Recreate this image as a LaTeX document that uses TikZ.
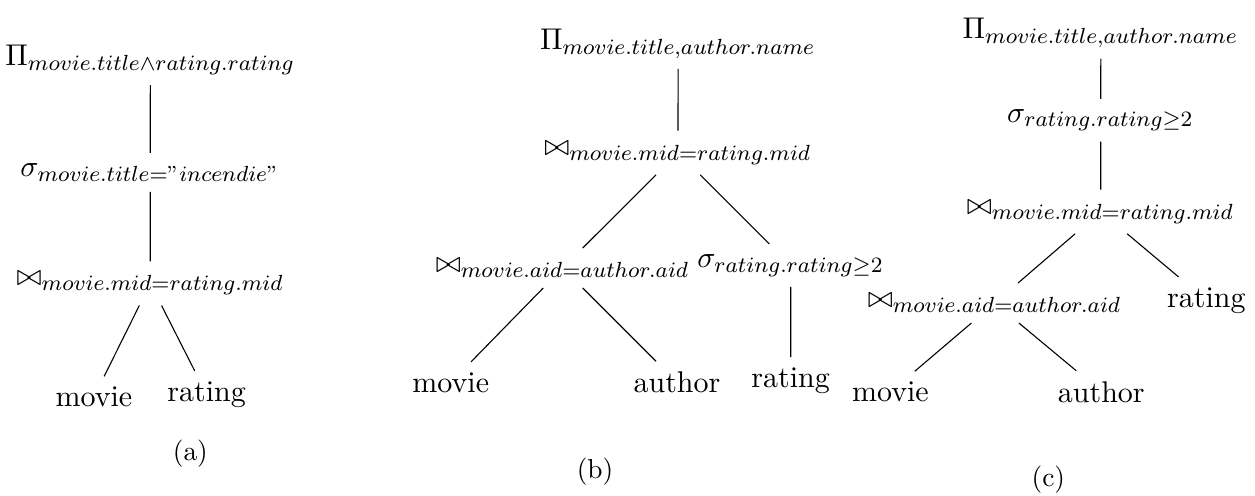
\documentclass[11pt,tikz,border=0pt]{standalone}
\usepackage{amsmath}
\usepackage{amssymb}
\begin{document}
\begin{tikzpicture}[scale=1.095]
            \useasboundingbox (0, 0) rectangle (14.70, 5.80);
            \node (pa) at (1.76, 5.10) {$\Pi_{movie.title \wedge rating.rating}$};
            \node (sa) at (1.76, 3.78) {$\sigma_{movie.title="incendie"}$};
            \node (ja) at (1.76, 2.48) {$\bowtie_{movie.mid=rating.mid}$};
            \node (ma) at (1.10, 1.15) {movie};
            \node (ra) at (2.42, 1.18) {rating};
            \node (capa) at (2.23, 0.49) {\small (a)};
            \draw (pa) -- (sa);
            \draw (sa) -- (ja);
            \draw (ja) -- (ma);
            \draw (ja) -- (ra);

            \node (pb) at (7.94, 5.29) {$\Pi_{movie.title,author.name}$};
            \node (jb) at (7.94, 4.01) {$\bowtie_{movie.mid=rating.mid}$};
            \node (kb) at (6.59, 2.66) {$\bowtie_{movie.aid=author.aid}$};
            \node (sb) at (9.26, 2.69) {$\sigma_{rating.rating \geq 2}$};
            \node (mb) at (5.28, 1.32) {movie};
            \node (ab) at (7.93, 1.32) {author};
            \node (rb) at (9.26, 1.34) {rating};
            \node (capb) at (6.97, 0.27) {\small (b)};
            \draw (pb) -- (jb);
            \draw (jb) -- (kb);
            \draw (jb) -- (sb);
            \draw (kb) -- (mb);
            \draw (kb) -- (ab);
            \draw (sb) -- (rb);

            \node (pc) at (12.89, 5.41) {$\Pi_{movie.title,author.name}$};
            \node (sc) at (12.89, 4.39) {$\sigma_{rating.rating \geq 2}$};
            \node (jc) at (12.89, 3.32) {$\bowtie_{movie.mid=rating.mid}$};
            \node (kc) at (11.65, 2.25) {$\bowtie_{movie.aid=author.aid}$};
            \node (rc) at (14.13, 2.28) {rating};
            \node (mc) at (10.43, 1.21) {movie};
            \node (ac) at (12.90, 1.21) {author};
            \node (capc) at (12.28, 0.18) {\small (c)};
            \draw (pc) -- (sc);
            \draw (sc) -- (jc);
            \draw (jc) -- (kc);
            \draw (jc) -- (rc);
            \draw (kc) -- (mc);
            \draw (kc) -- (ac);
\end{tikzpicture}
\end{document}
